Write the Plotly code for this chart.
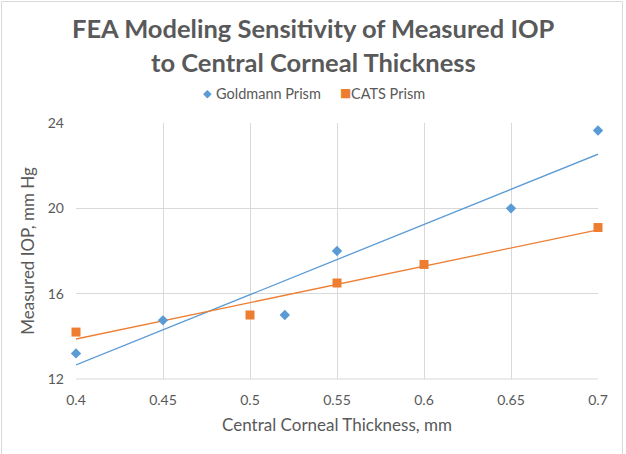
import numpy as np
import plotly.graph_objects as go

# Data
goldmann_x = [0.40, 0.45, 0.52, 0.55, 0.65, 0.70]
goldmann_y = [13.2, 14.75, 15.0, 18.0, 20.0, 23.65]
cats_x = [0.40, 0.50, 0.55, 0.60, 0.70]
cats_y = [14.2, 15.0, 16.5, 17.37, 19.1]
x_ticks = [0.4, 0.45, 0.5, 0.55, 0.6, 0.65, 0.7]
x_tick_labels = ["0.4", "0.45", "0.5", "0.55", "0.6", "0.65", "0.7"]
y_ticks = [12, 16, 20, 24]
series_names = ["Goldmann Prism", "CATS Prism"]

BLUE = "#5B9BD5"
ORANGE = "#ED7D31"
GRAY = "#595959"
FONT = "Lato"

W, H = 626, 454
L, R, T, B = 76, 28, 123, 75
pw, ph = W - L - R, H - T - B

def px_x(px):
    return (px - L) / pw

def px_y(py):
    return 1 - (py - T) / ph

def fit_line(xs, ys):
    m, b = np.polyfit(xs, ys, 1)
    lx = np.array([min(xs), max(xs)])
    return lx, m * lx + b

fig = go.Figure()
gx, gy = fit_line(goldmann_x, goldmann_y)
cx, cy = fit_line(cats_x, cats_y)
fig.add_trace(go.Scatter(x=gx, y=gy, mode="lines", line=dict(color=BLUE, width=1.3),
                         showlegend=False, hoverinfo="skip", cliponaxis=False))
fig.add_trace(go.Scatter(x=cx, y=cy, mode="lines", line=dict(color=ORANGE, width=1.3),
                         showlegend=False, hoverinfo="skip", cliponaxis=False))
fig.add_trace(go.Scatter(x=goldmann_x, y=goldmann_y, mode="markers", name=series_names[0],
                         marker=dict(symbol="diamond", size=8, color=BLUE),
                         showlegend=False, cliponaxis=False))
fig.add_trace(go.Scatter(x=cats_x, y=cats_y, mode="markers", name=series_names[1],
                         marker=dict(symbol="square", size=9, color=ORANGE),
                         showlegend=False, cliponaxis=False))

annotations = [
    dict(text="<b>FEA Modeling Sensitivity of Measured IOP</b>", x=px_x(313), y=px_y(28),
         xanchor="center", yanchor="middle", font=dict(size=25.5, color=GRAY)),
    dict(text="<b>to Central Corneal Thickness</b>", x=px_x(313), y=px_y(62),
         xanchor="center", yanchor="middle", font=dict(size=25.5, color=GRAY)),
    # legend
    dict(text="◆", x=px_x(207), y=px_y(93), xanchor="center", yanchor="middle",
         font=dict(size=11, color=BLUE, family="DejaVu Sans")),
    dict(text=series_names[0], x=px_x(214), y=px_y(93), xanchor="left", yanchor="middle",
         font=dict(size=14.5, color=GRAY)),
    dict(text="■", x=px_x(345), y=px_y(93), xanchor="center", yanchor="middle",
         font=dict(size=12, color=ORANGE, family="DejaVu Sans")),
    dict(text=series_names[1], x=px_x(349), y=px_y(93), xanchor="left", yanchor="middle",
         font=dict(size=14.5, color=GRAY)),
]
for a in annotations:
    a.update(xref="paper", yref="paper", showarrow=False)

fig.update_layout(
    width=W, height=H,
    margin=dict(l=L, r=R, t=T, b=B),
    paper_bgcolor="white", plot_bgcolor="white",
    font=dict(family=FONT, color=GRAY, size=14),
    showlegend=False,
    annotations=annotations,
    xaxis=dict(range=[0.4, 0.7], tickvals=x_ticks, ticktext=x_tick_labels,
               showgrid=True, gridcolor="#D9D9D9", gridwidth=1, zeroline=False,
               showline=False, ticks="", ticklabelstandoff=11,
               tickfont=dict(size=14, color=GRAY),
               title=dict(text="Central Corneal Thickness, mm", standoff=12,
                          font=dict(size=17, color=GRAY))),
    yaxis=dict(range=[12, 24], tickvals=y_ticks,
               showgrid=True, gridcolor="#D9D9D9", gridwidth=1, zeroline=False,
               showline=False, ticks="", ticklabelstandoff=11,
               tickfont=dict(size=14, color=GRAY),
               title=dict(text="Measured IOP, mm Hg", standoff=8,
                          font=dict(size=17, color=GRAY))),
    shapes=[dict(type="rect", xref="paper", yref="paper",
                 x0=px_x(1.5), x1=px_x(622.5),
                 y0=px_y(455), y1=px_y(1.5),
                 line=dict(color="#D9D9D9", width=1), layer="below"),
            dict(type="line", xref="paper", yref="paper", x0=0, x1=1, y0=0, y1=0,
                 line=dict(color="#D9D9D9", width=1), layer="below")],
)

fig.write_html("out.html", config={"displayModeBar": False},
               post_script="document.body.style.margin='0px';")
